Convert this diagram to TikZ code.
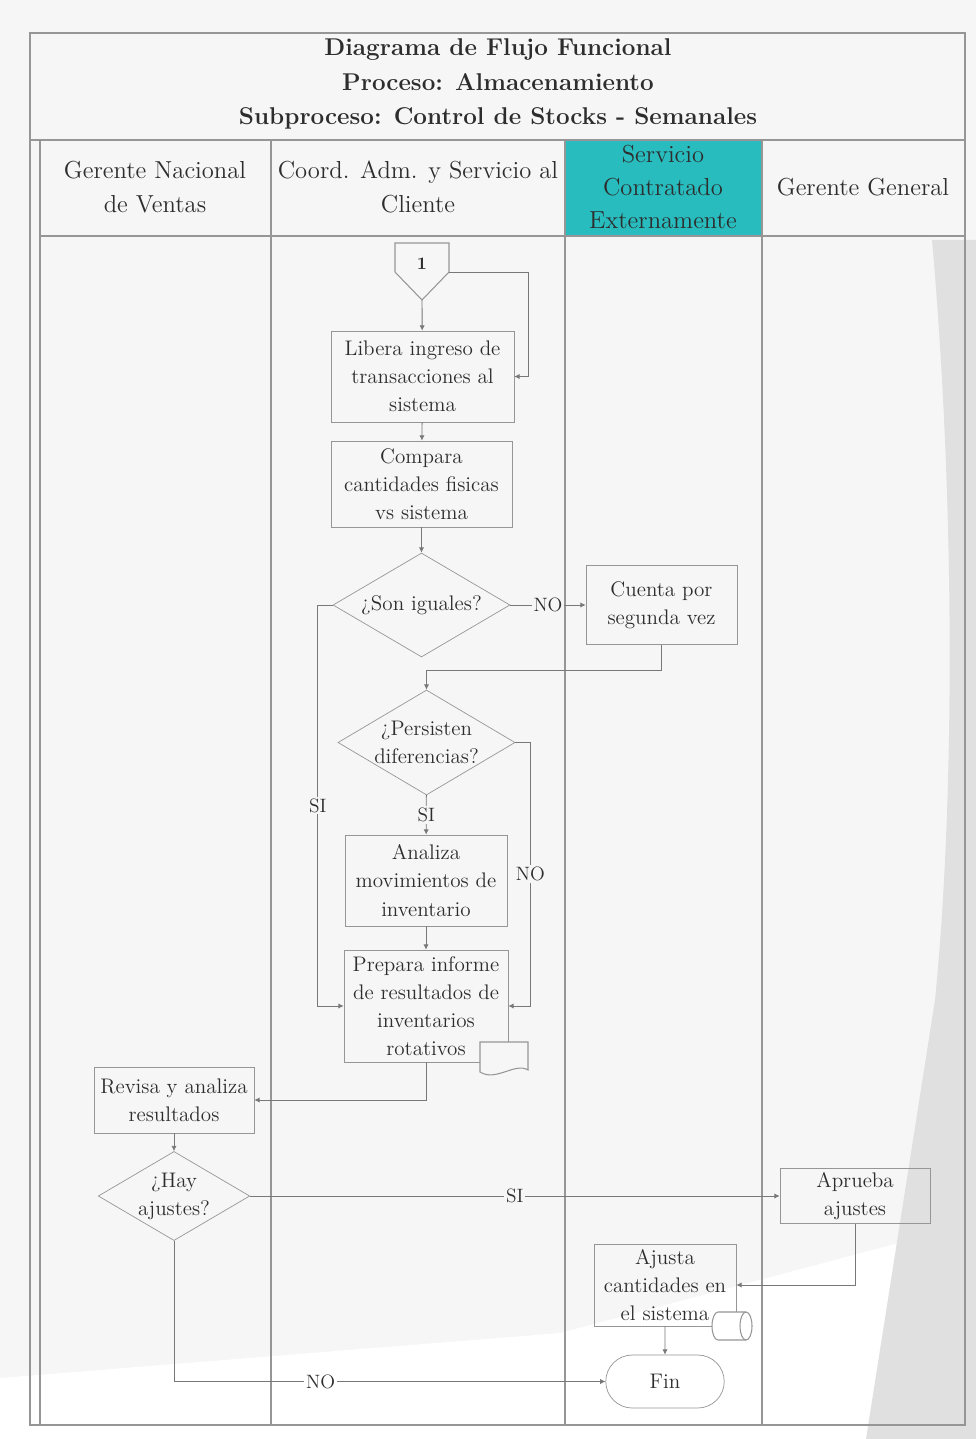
\documentclass[tikz,border=0pt]{standalone}
\usetikzlibrary{shapes.geometric,shapes.misc,arrows.meta}
\definecolor{fondo}{RGB}{246,246,246}
\definecolor{franja}{RGB}{224,224,224}
\definecolor{turquesa}{RGB}{40,188,190}
\definecolor{linea}{RGB}{150,150,150}
\definecolor{conector}{RGB}{120,120,120}
\definecolor{texto}{RGB}{45,45,45}
\begin{document}
\begin{tikzpicture}[x=0.02cm, y=-0.02cm,
    caja/.style={draw=linea, align=center, inner sep=1pt, text=texto, font=\fontsize{12}{16}\selectfont},
    rombo/.style={caja, diamond, aspect=1.7, inner sep=0pt},
    etiqueta/.style={fill=fondo, inner sep=1pt, text=texto, font=\fontsize{11}{13}\selectfont},
    flecha/.style={draw=conector, line width=0.5pt, -{Latex[length=3pt,width=3pt]}},
    marco/.style={draw=linea, line width=0.8pt},
    carril/.style={text=texto, align=center, font=\fontsize{14}{19}\selectfont}]
    \useasboundingbox (0,0) rectangle (976,1439);
    \fill[fondo] (0,0) rectangle (976,1439);
    \fill[white] (0,1378) -- (560,1333) -- (910,1240) -- (880,1439) -- (0,1439) -- cycle;
    \fill[franja] (932,240) .. controls (955,500) and (955,800) .. (935,1000) -- (866,1439) -- (976,1439) -- (976,240) -- cycle;

    \fill[turquesa] (565,140) rectangle (762,236);
    \draw[marco] (30,33) rectangle (965,1425);
    \draw[marco] (30,140) -- (965,140);
    \draw[marco] (40,236) -- (965,236);
    \foreach \x in {40,271,565,762}
        \draw[marco] (\x,140) -- (\x,1425);

    \node[text=texto, align=center, font=\fontsize{13.8}{19.4}\selectfont\bfseries] (titulo) at (498,84)
        {Diagrama de Flujo Funcional\\Proceso: Almacenamiento\\Subproceso: Control de Stocks - Semanales};

    \node[carril] (gnv) at (155,187) {Gerente Nacional\\de Ventas};
    \node[carril] (cas) at (418,187) {Coord. Adm. y Servicio al\\Cliente};
    \node[carril] (sce) at (663,187) {Servicio\\Contratado\\Externamente};
    \node[carril] (gg) at (863,187) {Gerente General};

    \draw[draw=linea, line width=0.6pt] (395,243) -- (449,243) -- (449,272) -- (422,300) -- (395,272) -- cycle;
    \node[text=texto, font=\fontsize{10}{12}\selectfont\bfseries] (c1) at (422,264) {1};
    \coordinate (c1s) at (422,300);
    \coordinate (c1e) at (449,272);

    \node[caja, minimum width=3.66cm, minimum height=1.82cm] (lib) at (422.5,376.5) {Libera ingreso de\\transacciones al\\sistema};
    \node[caja, minimum width=3.62cm, minimum height=1.72cm] (comp) at (421.5,484) {Compara\\cantidades fisicas\\vs sistema};
    \node[rombo, minimum width=3.54cm, minimum height=2.08cm] (son) at (421.5,605) {¿Son iguales?};
    \node[caja, minimum width=3.02cm, minimum height=1.58cm] (cue) at (661.5,605) {Cuenta por\\segunda vez};
    \node[rombo, minimum width=3.46cm, minimum height=2.1cm] (per) at (426.5,742.5) {¿Persisten\\diferencias?};
    \node[caja, minimum width=3.24cm, minimum height=1.82cm] (ana) at (426,880.5) {Analiza\\movimientos de\\inventario};
    \node[caja, minimum width=3.28cm, minimum height=2.24cm] (pre) at (426,1006) {Prepara informe\\de resultados de\\inventarios\\rotativos};
    \node[caja, minimum width=3.2cm, minimum height=1.32cm] (rev) at (174,1100) {Revisa y analiza\\resultados};
    \node[rombo, minimum width=2.86cm, minimum height=1.76cm] (hay) at (174,1196) {¿Hay\\ajustes?};
    \node[caja, minimum width=3.0cm, minimum height=1.1cm] (apr) at (855,1196) {Aprueba\\ajustes};
    \node[caja, minimum width=2.84cm, minimum height=1.64cm] (aju) at (665,1285) {Ajusta\\cantidades en\\el sistema};
    \node[caja, rounded rectangle, minimum width=2.44cm, minimum height=1.06cm] (fin) at (665,1381.5) {Fin};

    \filldraw[draw=linea, fill=fondo, line width=0.6pt] (480,1042) -- (528,1042) -- (528,1070) .. controls (515,1062) and (496,1082) .. (480,1072) -- cycle;
    \filldraw[draw=linea, fill=white, line width=0.6pt] (718,1312) -- (746,1312) arc[start angle=-90, end angle=90, x radius=6, y radius=14] -- (718,1340) arc[start angle=90, end angle=270, x radius=6, y radius=14] -- cycle;
    \draw[draw=linea, line width=0.6pt] (746,1312) arc[start angle=-90, end angle=-270, x radius=6, y radius=14];

    \draw[flecha] (c1s) -- (lib);
    \draw[flecha] (c1e) -- ++(79,0) |- (lib.east);
    \draw[flecha] (lib) -- (comp);
    \draw[flecha] (comp) -- (son);
    \draw[flecha] (son.east) -- node[etiqueta] {NO} (cue.west);
    \draw[flecha] (son.west) -- ++(-15,0) |- node[etiqueta, pos=0.25] {SI} (pre.west);
    \draw[flecha] (cue.south) -- ++(0,26) -| (per.north);
    \draw[flecha] (per) -- node[etiqueta] {SI} (ana);
    \draw[flecha] (per.east) -- ++(15,0) |- node[etiqueta, pos=0.25] {NO} (pre.east);
    \draw[flecha] (ana) -- (pre);
    \draw[flecha] (pre.south) |- (rev.east);
    \draw[flecha] (rev) -- (hay);
    \draw[flecha] (hay.east) -- node[etiqueta] {SI} (apr.west);
    \draw[flecha] (hay.south) |- node[etiqueta, fill=white, pos=0.67] {NO} (fin.west);
    \draw[flecha] (apr.south) |- (aju.east);
    \draw[flecha] (aju) -- (fin);
\end{tikzpicture}
\end{document}
